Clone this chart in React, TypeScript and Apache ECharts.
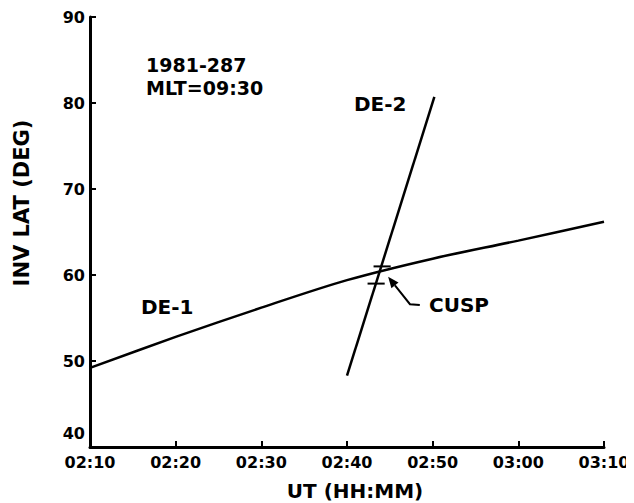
import React, { useEffect, useRef } from "react";
import * as echarts from "echarts";

// Minutes after 00:00 UT
const de1Times = [130, 140, 150, 160, 170, 180, 190];
const de1Lat = [49.2, 52.8, 56.2, 59.4, 61.9, 64.0, 66.2];
const de2Times = [160.0, 170.2];
const de2Lat = [48.3, 80.7];
const cuspMarks = [
  { lat: 61.0, from: 163.1, to: 165.1 },
  { lat: 59.0, from: 162.4, to: 164.4 },
];
const arrowPath = [
  [168.5, 56.5],
  [167.35, 56.6],
  [164.8, 59.8],
];

const FONT = "DejaVu Sans";

function fmt(v: number) {
  const h = Math.floor(v / 60);
  const m = Math.round(v - h * 60);
  return String(h).padStart(2, "0") + ":" + String(m).padStart(2, "0");
}

export default function App() {
  const ref = useRef<HTMLDivElement>(null);
  useEffect(() => {
    if (!ref.current) return;
    const chart = echarts.init(ref.current, null, { renderer: "svg" });
    const lineStyle = { color: "#000", width: 2.5 };
    const labelBase = { fontFamily: FONT, fontWeight: "bold", color: "#000" };
    const series: any[] = [
      {
        type: "line",
        name: "DE-1",
        data: de1Times.map((t, i) => [t, de1Lat[i]]),
        smooth: 0.3,
        symbol: "none",
        lineStyle,
      },
      {
        type: "line",
        name: "DE-2",
        data: de2Times.map((t, i) => [t, de2Lat[i]]),
        symbol: "none",
        lineStyle,
      },
      ...cuspMarks.map((c) => ({
        type: "line",
        data: [
          [c.from, c.lat],
          [c.to, c.lat],
        ],
        symbol: "none",
        lineStyle: { color: "#000", width: 2 },
      })),
    ];
    chart.setOption({
      animation: false,
      backgroundColor: "#fff",
      grid: { left: 90, right: 30, top: 17, bottom: 56, outerBoundsMode: "none", containLabel: false },
      xAxis: {
        type: "value",
        min: 130,
        max: 190,
        interval: 10,
        name: "UT (HH:MM)",
        nameLocation: "middle",
        nameGap: 34,
        nameTextStyle: { ...labelBase, fontSize: 20, padding: [0, 0, 0, 16] },
        axisLine: { lineStyle: { color: "#000", width: 3 } },
        axisTick: { inside: true, length: 6, lineStyle: { color: "#000", width: 2 } },
        axisLabel: {
          formatter: (v: number) => fmt(v),
          ...labelBase,
          fontSize: 16,
          margin: 7,
        },
        splitLine: { show: false },
      },
      yAxis: {
        type: "value",
        min: 40,
        max: 90,
        interval: 10,
        name: "INV LAT (DEG)",
        nameLocation: "middle",
        nameGap: 58,
        nameTextStyle: { ...labelBase, fontSize: 21, padding: [0, 0, 0, 58] },
        axisLine: { lineStyle: { color: "#000", width: 3 } },
        axisTick: { inside: true, length: 6, lineStyle: { color: "#000", width: 2 } },
        axisLabel: {
          formatter: (v: number) => (v === 40 ? "{low|40}" : String(v)),
          ...labelBase,
          fontSize: 16,
          margin: 5,
          rich: { low: { ...labelBase, fontSize: 16, padding: [0, 0, 28, 0] } },
        },
        splitLine: { show: false },
      },
      series,
    });

    const px = arrowPath.map((p) => chart.convertToPixel({ gridIndex: 0 }, p) as number[]);
    const tip = px[px.length - 1];
    const prev = px[px.length - 2];
    const dx = tip[0] - prev[0];
    const dy = tip[1] - prev[1];
    const len = Math.hypot(dx, dy) || 1;
    const ux = dx / len;
    const uy = dy / len;
    const hl = 11;
    const hw = 4.5;
    const bx = tip[0] - ux * hl;
    const by = tip[1] - uy * hl;
    const head = [
      [tip[0], tip[1]],
      [bx - uy * hw, by + ux * hw],
      [bx + uy * hw, by - ux * hw],
    ];
    const txt = (text: string, x: number, y: number, size: number) => ({
      type: "text",
      x,
      y,
      style: {
        text,
        fontFamily: FONT,
        fontWeight: "bold",
        fontSize: size,
        fill: "#000",
        textVerticalAlign: "middle",
      },
    });
    chart.setOption({
      graphic: [
        txt("1981-287", 146, 65, 19),
        txt("MLT=09:30", 146, 88, 19),
        txt("DE-2", 354, 104, 20),
        txt("DE-1", 141, 307, 20),
        txt("CUSP", 429, 305, 20),
        {
          type: "polyline",
          shape: { points: [px[0], px[1], [bx, by]] },
          style: { stroke: "#000", lineWidth: 2, fill: null },
        },
        {
          type: "polygon",
          shape: { points: head },
          style: { fill: "#000" },
        },
      ],
    });
    return () => chart.dispose();
  }, []);
  return <div ref={ref} style={{ width: 634, height: 503, marginLeft: -8, marginTop: -8 }} />;
}
